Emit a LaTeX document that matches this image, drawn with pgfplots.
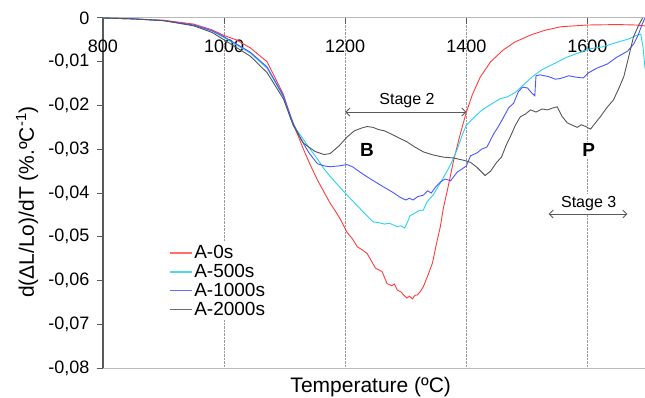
\documentclass[border=0pt]{standalone}
\usepackage{fontspec}
\setmainfont{Liberation Sans}
\usepackage{pgfplots}
\pgfplotsset{compat=1.18}
\usetikzlibrary{arrows.meta}
\definecolor{cred}{RGB}{255,60,60}
\definecolor{ccyan}{RGB}{40,210,245}
\definecolor{cblue}{RGB}{75,85,255}
\definecolor{cgray}{RGB}{85,85,85}
\definecolor{axgray}{RGB}{90,90,90}
\definecolor{lightax}{RGB}{185,185,185}

\pgfplotstableread{
T v
800 0
850 -0.0002
900 -0.0005
950 -0.0014
980 -0.0027
1000 -0.0040
1020 -0.0050
1043 -0.0068
1071 -0.0100
1098 -0.0175
1109 -0.0225
1120 -0.0262
1131 -0.0300
1142 -0.0335
1154 -0.0370
1165 -0.0398
1175 -0.0423
1184 -0.0442
1192 -0.0460
1203 -0.0490
1212 -0.0505
1220 -0.0523
1228 -0.0530
1236 -0.0538
1243 -0.0555
1250 -0.0572
1256 -0.0576
1261 -0.0580
1269 -0.0607
1277 -0.0612
1281 -0.0608
1286 -0.0622
1292 -0.0626
1297 -0.0634
1302 -0.0640
1306 -0.0636
1311 -0.0642
1315 -0.0634
1319 -0.0633
1324 -0.0625
1329 -0.0614
1336 -0.0590
1344 -0.0560
1350 -0.0520
1357 -0.0477
1362 -0.0435
1370 -0.0385
1379 -0.0325
1390 -0.0265
1400 -0.0215
1410 -0.0175
1423 -0.0135
1440 -0.0100
1461 -0.0073
1480 -0.0055
1506 -0.0039
1530 -0.0028
1556 -0.0020
1600 -0.0016
1650 -0.0015
1680 -0.0016
1695 -0.0018
}\redtab

\pgfplotstableread{
T v
800 0
850 -0.0002
900 -0.0006
950 -0.0017
980 -0.0030
1000 -0.0045
1043 -0.0080
1071 -0.0115
1098 -0.0180
1114 -0.0245
1126 -0.0268
1140 -0.0296
1154 -0.0322
1165 -0.0345
1175 -0.0362
1190 -0.0385
1203 -0.0405
1215 -0.0422
1226 -0.0438
1236 -0.0452
1246 -0.0466
1256 -0.0468
1265 -0.0471
1273 -0.0469
1279 -0.0473
1286 -0.0477
1292 -0.0475
1298 -0.0480
1303 -0.0466
1307 -0.0452
1315 -0.0446
1322 -0.0440
1329 -0.0439
1335 -0.0420
1345 -0.0405
1357 -0.0377
1366 -0.0355
1374 -0.0335
1385 -0.0300
1393 -0.0268
1400 -0.0245
1412 -0.0228
1426 -0.0210
1440 -0.0198
1455 -0.0185
1468 -0.0180
1481 -0.0170
1495 -0.0152
1509 -0.0134
1525 -0.0118
1547 -0.0103
1565 -0.0090
1585 -0.0080
1605 -0.0070
1625 -0.0066
1650 -0.0055
1668 -0.0048
1682 -0.0039
1688 -0.0037
1692 -0.0070
1695 -0.0115
}\cyantab

\pgfplotstableread{
T v
800 0
850 -0.0002
900 -0.0006
950 -0.0016
980 -0.0029
1000 -0.0043
1043 -0.0078
1071 -0.0112
1098 -0.0178
1114 -0.0240
1126 -0.0275
1140 -0.0308
1154 -0.0333
1165 -0.0338
1175 -0.0340
1190 -0.0338
1203 -0.0335
1212 -0.0340
1220 -0.0348
1236 -0.0363
1250 -0.0375
1263 -0.0386
1278 -0.0398
1291 -0.0410
1300 -0.0416
1306 -0.0412
1312 -0.0416
1320 -0.0408
1329 -0.0405
1336 -0.0395
1342 -0.0400
1350 -0.0385
1357 -0.0375
1365 -0.0368
1374 -0.0372
1385 -0.0352
1393 -0.0345
1400 -0.0338
1407 -0.0315
1418 -0.0308
1425 -0.0300
1434 -0.0295
1445 -0.0265
1452 -0.0250
1461 -0.0228
1470 -0.0205
1478 -0.0195
1486 -0.0168
1493 -0.0158
1501 -0.0160
1507 -0.0170
1513 -0.0178
1515 -0.0132
1522 -0.0130
1536 -0.0134
1547 -0.0140
1556 -0.0138
1569 -0.0132
1580 -0.0135
1593 -0.0137
1602 -0.0125
1615 -0.0115
1633 -0.0105
1648 -0.0090
1666 -0.0076
1676 -0.0060
1684 -0.0038
1690 -0.0015
1695 0.0000
}\bluetab

\pgfplotstableread{
T v
800 0
850 -0.0002
900 -0.0006
950 -0.0018
980 -0.0033
1000 -0.0050
1043 -0.0087
1071 -0.0125
1098 -0.0185
1114 -0.0245
1131 -0.0286
1150 -0.0305
1165 -0.0312
1175 -0.0310
1190 -0.0292
1203 -0.0272
1215 -0.0258
1226 -0.0252
1236 -0.0248
1246 -0.0250
1255 -0.0255
1265 -0.0258
1274 -0.0264
1283 -0.0270
1290 -0.0275
1302 -0.0283
1315 -0.0295
1329 -0.0306
1345 -0.0313
1362 -0.0318
1379 -0.0320
1395 -0.0325
1407 -0.0330
1418 -0.0342
1431 -0.0360
1440 -0.0350
1450 -0.0330
1458 -0.0318
1466 -0.0290
1473 -0.0270
1481 -0.0245
1489 -0.0226
1497 -0.0220
1506 -0.0210
1515 -0.0215
1525 -0.0208
1534 -0.0210
1542 -0.0206
1550 -0.0203
1558 -0.0225
1567 -0.0240
1575 -0.0245
1583 -0.0250
1590 -0.0244
1597 -0.0248
1605 -0.0254
1613 -0.0240
1621 -0.0226
1632 -0.0205
1643 -0.0187
1652 -0.0160
1660 -0.0134
1668 -0.0089
1676 -0.0043
1684 -0.0018
1691 0.0000
}\graytab

\begin{document}
\begin{tikzpicture}[x=1pt,y=1pt]
\useasboundingbox (-103,-29) rectangle (542,368);
\begin{axis}[
  at={(0,0)}, anchor=south west,
  scale only axis, width=542pt, height=350pt,
  xmin=800, xmax=1695, ymin=-0.08, ymax=0,
  axis x line*=top, axis y line*=left,
  x axis line style={-, draw=lightax, line width=1pt},
  y axis line style={-, draw=axgray, line width=1.6pt},
  scaled y ticks=false, scaled x ticks=false,
  xtick={800,1000,1200,1400,1600},
  xticklabels={800,1000,1200,1400,1600},
  ytick={-0.08,-0.07,-0.06,-0.05,-0.04,-0.03,-0.02,-0.01,0},
  yticklabels={{-0,08},{-0,07},{-0,06},{-0,05},{-0,04},{-0,03},{-0,02},{-0,01},{0}},
  /pgf/number format/assume math mode=true,
  tick align=outside, major tick length=6pt,
  xtick style={draw=axgray, line width=0.8pt, yshift=-6pt},
  ytick style={draw=axgray, line width=1pt},
  ticklabel style={font=\fontsize{18}{18}\selectfont, text=black},
  xticklabel style={anchor=north, yshift=-24pt},
  yticklabel style={anchor=east, xshift=-4pt},
  xmajorgrids, grid style={densely dotted, draw=gray!80, line width=0.8pt},
  xlabel={Temperature (ºC)},
  ylabel={d(ΔL/Lo)/dT (\%.ºC\textsuperscript{-1})},
  label style={font=\fontsize{21}{21}\selectfont},
  xlabel style={at={(axis description cs:0.494,-0.0714)}, anchor=base},
  ylabel style={at={(axis description cs:-0.140,0.474)}, anchor=center, rotate=0},
  legend style={at={(axis description cs:0.118,0.36)}, anchor=north west,
    draw=none, fill=white, font=\fontsize{19}{19}\selectfont,
    row sep=1pt, inner sep=2pt, nodes={inner sep=1.5pt}},
  legend cell align=left,
  every axis plot/.append style={line width=0.9pt},
]
\draw[lightax, line width=1pt] (axis cs:800,-0.08) -- (axis cs:1695,-0.08);
\addplot[draw=cred] table[x=T,y=v] {\redtab};
\addplot[draw=ccyan] table[x=T,y=v] {\cyantab};
\addplot[draw=cblue] table[x=T,y=v] {\bluetab};
\addplot[draw=cgray] table[x=T,y=v] {\graytab};
\addlegendimage{legend image code/.code={\draw[draw=cred!75, line width=1.6pt] (0pt,0pt) -- (22pt,0pt);}}
\addlegendimage{legend image code/.code={\draw[draw=ccyan!85, line width=1.6pt] (0pt,0pt) -- (22pt,0pt);}}
\addlegendimage{legend image code/.code={\draw[draw=cblue!85, line width=1.6pt] (0pt,0pt) -- (22pt,0pt);}}
\addlegendimage{legend image code/.code={\draw[draw=cgray!85, line width=1.6pt] (0pt,0pt) -- (22pt,0pt);}}
\legend{,,,,A-0s,A-500s,A-1000s,A-2000s}
\draw[{Straight Barb[length=4pt]}-{Straight Barb[length=4pt]}, axgray, line width=0.9pt]
  (axis cs:1200,-0.0215) -- (axis cs:1400,-0.0215);
\node[font=\fontsize{16}{16}\selectfont] at (axis cs:1302,-0.0189) {Stage 2};
\node[font=\bfseries\fontsize{19}{19}\selectfont] at (axis cs:1236,-0.0302) {B};
\node[font=\bfseries\fontsize{19}{19}\selectfont, fill=white, inner sep=2pt] at (axis cs:1602,-0.0302) {P};
\node[font=\fontsize{16}{16}\selectfont, fill=white, inner sep=2pt] at (axis cs:1602,-0.0424) {Stage 3};
\draw[{Straight Barb[length=4pt]}-{Straight Barb[length=4pt]}, axgray, line width=0.9pt]
  (axis cs:1536,-0.0448) -- (axis cs:1666,-0.0448);
\end{axis}
\end{tikzpicture}
\end{document}
